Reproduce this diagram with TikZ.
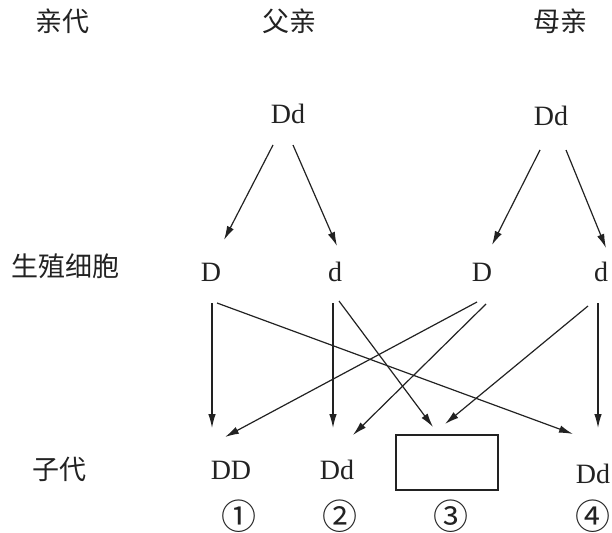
\documentclass[tikz,border=0pt]{standalone}
\usepackage{fontspec}
\setmainfont{Liberation Serif}
\newfontfamily\cjk{Noto Sans CJK SC}
\usetikzlibrary{arrows.meta,calc}
\definecolor{ink}{HTML}{222222}
\tikzset{
  lab/.style={font=\cjk\fontsize{27}{30}\selectfont, text=ink, inner sep=0pt, anchor=center},
  gen/.style={font=\fontsize{28}{30}\selectfont, text=ink, inner sep=0pt, anchor=center},
  num/.style={font=\cjk\fontsize{35}{38}\selectfont, text=ink, inner sep=0pt, text height=24pt, text depth=0pt, anchor=base},
  arr/.style={draw=ink, line width=1.2pt, -{Latex[length=14pt,width=7.5pt]}},
  blank/.style={draw=ink, line width=2.8pt, minimum width=102pt, minimum height=55pt, inner sep=0pt}
}
\begin{document}
\begin{tikzpicture}[x=1pt,y=-1pt]
\useasboundingbox (0,0) rectangle (612,532);
% row labels
\node[lab] (l1) at (62,21) {亲代};
\node[lab] (l2) at (289,21) {父亲};
\node[lab] (l3) at (560,21) {母亲};
\node[lab] (l4) at (65,266) {生殖细胞};
\node[lab] (l5) at (59,469) {子代};
% parents
\node[gen] (pL) at (288,114) {Dd};
\node[gen] (pR) at (551,116) {Dd};
% gametes
\node[gen] (g1) at (211,272) {D};
\node[gen] (g2) at (335,272) {d};
\node[gen] (g3) at (482,272) {D};
\node[gen] (g4) at (601,272) {d};
% offspring
\node[gen] (o1) at (231,470) {DD};
\node[gen] (o2) at (337,470) {Dd};
\node[blank] (bx) at (447,462.5) {};
\node[gen] (o4) at (593,474) {Dd};
% numbers
\node[num] (c1) at (239,529) {①};
\node[num] (c2) at (340,529) {②};
\node[num] (c3) at (451,529) {③};
\node[num] (c4) at (593,529) {④};
% arrows parents -> gametes
\draw[arr] ($(pL)+(-15,31)$) -- ($(g1)+(13,-32)$);
\draw[arr] ($(pL)+(5,31)$) -- ($(g2)+(2,-26)$);
\draw[arr] ($(pR)+(-11,34)$) -- ($(g3)+(10,-27)$);
\draw[arr] ($(pR)+(15,34)$) -- ($(g4)+(5,-24)$);
% arrows gametes -> offspring
\draw[arr] ($(g1)+(1,31)$) -- ($(o1)+(-19,-42)$);
\draw[arr] ($(g1)+(6,31)$) -- ($(o4)+(-20,-40)$);
\draw[arr] ($(g2)+(-2,31)$) -- ($(o2)+(-4,-42)$);
\draw[arr] ($(g2)+(4,29)$) -- ($(bx)+(-14,-35.5)$);
\draw[arr] ($(g3)+(-5,30)$) -- ($(o1)+(-6,-33)$);
\draw[arr] ($(g3)+(4,32)$) -- ($(o2)+(16,-35)$);
\draw[arr] ($(g4)+(-13,34)$) -- ($(bx)+(-2,-38.5)$);
\draw[arr] ($(g4)+(-3,31)$) -- ($(o4)+(5,-46)$);
\end{tikzpicture}
\end{document}
